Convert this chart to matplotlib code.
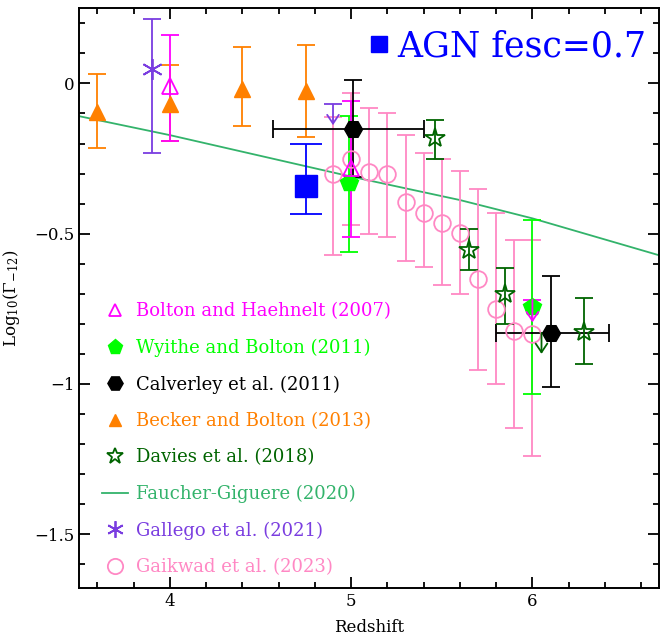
import matplotlib
matplotlib.use('Agg')
import matplotlib.pyplot as plt
from matplotlib.lines import Line2D
from matplotlib.ticker import MultipleLocator

plt.rcParams['font.family'] = 'DejaVu Serif'
plt.rcParams['mathtext.fontset'] = 'dejavuserif'

# Bolton and Haehnelt (2007)
bh_z = [4.0, 5.0]
bh_g = [-0.01, -0.28]
bh_lo = [0.18, 0.23]
bh_hi = [0.17, 0.22]
bh_lim_z = [6.0]
bh_lim_top = [-0.72]
bh_lim_tip = [-0.795]

# Wyithe and Bolton (2011)
wb_z = [4.99, 6.0]
wb_g = [-0.33, -0.745]
wb_lo = [0.23, 0.29]
wb_hi = [0.22, 0.29]

# Calverley et al. (2011)
cal_z = [5.01, 6.10]
cal_g = [-0.15, -0.83]
cal_lo = [0.16, 0.18]
cal_hi = [0.16, 0.19]
cal_zlo = [0.44, 0.30]
cal_zhi = [0.39, 0.32]

# Becker and Bolton (2013)
bb_z = [3.6, 4.0, 4.4, 4.75]
bb_g = [-0.094, -0.07, -0.017, -0.025]
bb_lo = [0.12, 0.12, 0.125, 0.153]
bb_hi = [0.127, 0.133, 0.138, 0.153]

# Davies et al. (2018)
dv_z = [5.465, 5.652, 5.851, 6.287]
dv_g = [-0.18, -0.553, -0.70, -0.827]
dv_lo = [0.071, 0.068, 0.10, 0.105]
dv_hi = [0.058, 0.07, 0.087, 0.113]
dv_lim_z = [6.05]
dv_lim_top = [-0.83]
dv_lim_tip = [-0.90]

# Faucher-Giguere (2020)
fg_z = [3.5, 4.0, 4.5, 5.0, 5.6, 6.0, 6.7]
fg_g = [-0.109, -0.172, -0.241, -0.31, -0.388, -0.449, -0.572]

# Gallego et al. (2021)
ga_z = [3.9]
ga_g = [0.047]
ga_lo = [0.277]
ga_hi = [0.169]
ga_lim_z = [4.9]
ga_lim_top = [-0.07]
ga_lim_tip = [-0.139]

# Gaikwad et al. (2023)
gk_z = [4.9, 5.0, 5.1, 5.2, 5.3, 5.4, 5.5, 5.6, 5.7, 5.8, 5.9, 6.0]
gk_g = [-0.300, -0.252, -0.294, -0.300, -0.394, -0.431, -0.464, -0.497, -0.652, -0.751, -0.823, -0.835]
gk_top = [-0.111, -0.031, -0.081, -0.10, -0.172, -0.231, -0.251, -0.291, -0.351, -0.431, -0.522, -0.522]
gk_bot = [-0.571, -0.472, -0.502, -0.511, -0.592, -0.610, -0.671, -0.702, -0.955, -1.001, -1.146, -1.24]

# AGN model, fesc = 0.7
agn_z = [4.75]
agn_g = [-0.341]
agn_lo = [0.092]
agn_hi = [0.139]

c_bh = '#ff00ff'
c_wb = '#00ff00'
c_cal = 'black'
c_bb = '#ff8000'
c_dv = '#006400'
c_fg = '#33b36b'
c_ga = '#7a3de0'
c_gk = '#ff88c4'
c_agn = '#0000ff'

fig = plt.figure(figsize=(6.6, 6.39), dpi=100)
ax = fig.add_axes([0.120, 0.0793, 0.879, 0.9077])

lw = 1.3
cs = 6.7

def limit(zs, tops, tips, c, cap=True):
    for z, t, b in zip(zs, tops, tips):
        if cap:
            ax.plot([z], [t], marker='_', ms=13, mew=lw, color=c, ls='none')
        ax.annotate('', xy=(z, b), xytext=(z, t),
                    arrowprops=dict(arrowstyle='->,head_length=0.45,head_width=0.3',
                                    color=c, lw=lw, shrinkA=0, shrinkB=0,
                                    mutation_scale=14))

ax.plot(fg_z, fg_g, color=c_fg, lw=1.3, zorder=1)

gk_lo = [g - b for g, b in zip(gk_g, gk_bot)]
gk_hi = [t - g for g, t in zip(gk_g, gk_top)]
ax.errorbar(gk_z, gk_g, yerr=[gk_lo, gk_hi], fmt='o', ms=12, mfc='none', mec=c_gk,
            mew=lw, color=c_gk, elinewidth=lw, capsize=cs, capthick=lw)

ax.errorbar(bb_z, bb_g, yerr=[bb_lo, bb_hi], fmt='^', ms=11, color=c_bb,
            elinewidth=lw, capsize=cs, capthick=lw)

ax.errorbar(ga_z, ga_g, yerr=[ga_lo, ga_hi], fmt='none', color=c_ga,
            elinewidth=lw, capsize=cs, capthick=lw)
ax.plot(ga_z, ga_g, marker=(6, 2, 0), ms=15, mew=lw, color=c_ga, ls='none')
limit(ga_lim_z, ga_lim_top, ga_lim_tip, c_ga)

ax.errorbar(wb_z, wb_g, yerr=[wb_lo, wb_hi], fmt='p', ms=13, color=c_wb,
            elinewidth=lw, capsize=cs, capthick=lw)

limit(bh_lim_z, bh_lim_top, bh_lim_tip, c_bh)
ax.errorbar(bh_z, bh_g, yerr=[bh_lo, bh_hi], fmt='^', ms=12, mfc='none', mec=c_bh,
            mew=lw, color=c_bh, elinewidth=lw, capsize=cs, capthick=lw)

ax.errorbar(cal_z, cal_g, yerr=[cal_lo, cal_hi], xerr=[cal_zlo, cal_zhi], fmt='H',
            ms=13, color=c_cal, elinewidth=lw, capsize=cs, capthick=lw)

limit(dv_lim_z, dv_lim_top, dv_lim_tip, c_dv, cap=False)
ax.errorbar(dv_z, dv_g, yerr=[dv_lo, dv_hi], fmt='*', ms=15, mfc='none', mec=c_dv,
            mew=lw, color=c_dv, elinewidth=lw, capsize=cs, capthick=lw)

ax.errorbar(agn_z, agn_g, yerr=[agn_lo, agn_hi], fmt='s', ms=16, color=c_agn,
            elinewidth=lw, capsize=11.5, capthick=lw)

ax.set_xlim(3.5, 6.7)
ax.set_ylim(-1.68, 0.25)
ax.xaxis.set_major_locator(MultipleLocator(1))
ax.xaxis.set_minor_locator(MultipleLocator(0.2))
ax.yaxis.set_major_locator(MultipleLocator(0.5))
ax.yaxis.set_minor_locator(MultipleLocator(0.1))
ax.tick_params(which='both', direction='in', top=True, right=True, width=1.3,
               labelsize=12)
ax.tick_params(which='major', length=8)
ax.tick_params(which='minor', length=4)
for s in ax.spines.values():
    s.set_linewidth(1.4)
ax.set_yticks([0, -0.5, -1, -1.5])
ax.set_yticklabels(['0', '\u22120.5', '\u22121', '\u22121.5'])

ax.set_xlabel('Redshift', fontsize=12, labelpad=6)
ax.set_ylabel(r'Log$_{10}$($\Gamma_{-12}$)', fontsize=12, labelpad=9)

handles = [
    Line2D([], [], ls='none', marker='^', ms=9, mfc='none', mec=c_bh, mew=lw, color=c_bh),
    Line2D([], [], ls='none', marker='p', ms=11, color=c_wb),
    Line2D([], [], ls='none', marker='H', ms=11, color=c_cal),
    Line2D([], [], ls='none', marker='^', ms=9, color=c_bb),
    Line2D([], [], ls='none', marker='*', ms=12, mfc='none', mec=c_dv, mew=lw, color=c_dv),
    Line2D([], [], color=c_fg, lw=1.3),
    Line2D([], [], ls='none', marker=(6, 2, 0), ms=12, mew=lw, color=c_ga),
    Line2D([], [], ls='none', marker='o', ms=11, mfc='none', mec=c_gk, mew=lw, color=c_gk),
]
labels = ['Bolton and Haehnelt (2007)', 'Wyithe and Bolton (2011)',
          'Calverley et al. (2011)', 'Becker and Bolton (2013)',
          'Davies et al. (2018)', 'Faucher-Giguere (2020)',
          'Gallego et al. (2021)', 'Gaikwad et al. (2023)']
leg = ax.legend(handles, labels, loc='lower left', bbox_to_anchor=(0.012, -0.007),
                frameon=False, fontsize=13, handlelength=1.4, handletextpad=0.45,
                labelspacing=1.02,
                labelcolor=[c_bh, c_wb, c_cal, c_bb, c_dv, c_fg, c_ga, c_gk])
ax.add_artist(leg)

agn_h = [Line2D([], [], ls='none', marker='s', ms=11, color=c_agn)]
ax.legend(agn_h, ['AGN fesc=0.7'], loc='upper right', bbox_to_anchor=(1.032, 1.018),
          frameon=False, fontsize=25, handlelength=0.45, handletextpad=0.3,
          labelcolor=c_agn)

plt.savefig('out.png', dpi=100)
